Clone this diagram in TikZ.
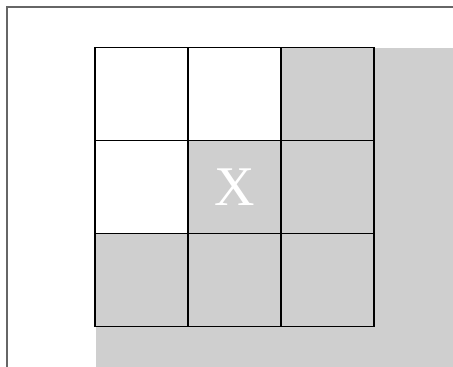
\documentclass[tikz,border=0pt]{standalone}
\usepackage{fontspec}
\setmainfont{Liberation Serif}
\begin{document}
\begin{tikzpicture}[x=1pt,y=-1pt,
  frameline/.style={draw=black!60, line width=1.2pt},
  cellbox/.style={draw=black, line width=1.6pt, minimum width=93pt, minimum height=93pt, inner sep=0pt, outer sep=0pt},
  graycell/.style={cellbox, fill=cellgray},
  whitecell/.style={cellbox, fill=white}]
\definecolor{cellgray}{RGB}{207,207,207}
\useasboundingbox (0,0) rectangle (453,367);
\fill[cellgray] (95.5,47.5) rectangle (453,367);
\coordinate (tl) at (7,367);
\coordinate (c) at (7,7);
\coordinate (tr) at (452.5,7);
\draw[frameline] (tl) -- (c) -- (tr);
\node[whitecell] (a11) at (141.5,94) {};
\node[whitecell] (a12) at (234.5,94) {};
\node[graycell] (a13) at (327.5,94) {};
\node[whitecell] (a21) at (141.5,187) {};
\node[graycell, font=\fontsize{56}{56}\selectfont, text=white] (a22) at (234.5,187) {X};
\node[graycell] (a23) at (327.5,187) {};
\node[graycell] (a31) at (141.5,280) {};
\node[graycell] (a32) at (234.5,280) {};
\node[graycell] (a33) at (327.5,280) {};
\end{tikzpicture}
\end{document}
